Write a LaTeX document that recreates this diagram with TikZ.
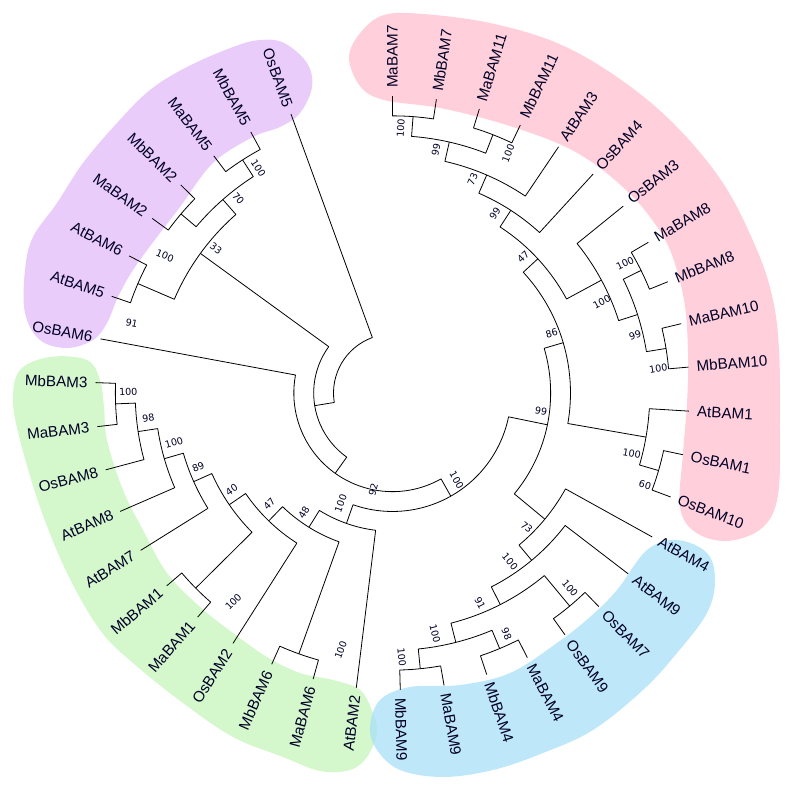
\documentclass[tikz,border=0pt]{standalone}
\usepackage{fontspec}
\setmainfont{Liberation Sans}
\newfontfamily\bsfont{DejaVu Sans}
\definecolor{bandpurple}{RGB}{234,204,251}
\definecolor{bandpink}{RGB}{255,208,219}
\definecolor{bandgreen}{RGB}{212,247,204}
\definecolor{bandblue}{RGB}{168,224,248}
\newcommand\trSetAng[2]{\expandafter\xdef\csname trAng@#1\endcsname{#2}}
\newcommand\trAng[1]{\csname trAng@#1\endcsname}
\newcommand\trLeaf[3]{%
  \pgfmathsetmacro\trLa{90-8.5*#2}%
  \trSetAng{#1}{\trLa}%
  \coordinate (#1) at (\trLa:296.96pt);%
  \pgfmathtruncatemacro\trLeft{cos(\trLa)<(-0.01)}%
  \ifnum\trLeft=1\relax
    \pgfmathsetmacro\trLr{\trLa+180}%
    \node[leaflab,anchor=east,rotate=\trLr] (t#1) at (\trLa:302pt) {#3};%
  \else
    \node[leaflab,anchor=west,rotate=\trLa] (t#1) at (\trLa:302pt) {#3};%
  \fi}
\newcommand\trNode[4]{%
  \pgfmathsetmacro\trTa{\trAng{#2}}%
  \pgfmathsetmacro\trTb{\trAng{#3}}%
  \pgfmathsetmacro\trTm{(\trTa+\trTb)/2}%
  \pgfmathsetmacro\trR{59+19.83*(12-#4)}%
  \trSetAng{#1}{\trTm}%
  \coordinate (#1) at (\trTm:\trR pt);%
  \draw[branch] (#2) -- (\trTa:\trR pt) arc[start angle=\trTa,end angle=\trTb,radius=\trR pt] -- (#3);%
}
\begin{document}
\begin{tikzpicture}[x=1pt,y=1pt,
  branch/.style={line width=0.8pt,black,line join=round},
  leaflab/.style={font=\fontsize{15.2}{18}\selectfont,inner sep=3pt,text=black!85!blue},
  bs/.style={font=\bsfont\fontsize{9.6}{11}\selectfont,inner sep=0pt,text=black!85!blue},
  band/.style={smooth cycle,tension=0.6}]
\useasboundingbox (0,0) rectangle (792,784);
% ---------- highlight bands (image coordinates) ----------
\begin{scope}[shift={(0,784)},yscale=-1]
\fill[bandgreen] plot[band] coordinates {(50,357) (87,360) (100,380) (104,407) (107,440) (123,490) (143,530) (167,573) (200,607) (233,633) (267,657) (300,673) (333,680) (360,690) (373,713) (377,733) (367,757) (350,770) (320,771) (283,757) (233,737) (183,703) (133,663) (100,630) (67,573) (40,507) (20,440) (13,400) (20,370)};
\fill[bandblue,fill opacity=0.75] plot[band] coordinates {(370,727) (380,700) (410,687) (460,685) (510,673) (557,643) (590,617) (617,590) (647,550) (677,540) (707,553) (715,580) (707,613) (677,653) (643,690) (593,730) (543,753) (493,770) (443,777) (400,770) (377,750)};
\fill[bandpink] plot[band] coordinates {(349,57) (361,32) (384,15) (423,14) (490,23) (557,43) (617,77) (673,123) (723,183) (757,250) (773,300) (779,350) (780,420) (778,495) (762,528) (727,541) (695,532) (680,507) (683,453) (687,403) (688,353) (684,300) (670,250) (650,217) (626,190) (593,163) (557,143) (500,123) (440,108) (384,100) (360,86)};
\fill[bandpurple] plot[band] coordinates {(260,40) (284,43) (307,63) (312,87) (300,113) (280,127) (253,137) (213,163) (180,207) (157,237) (133,270) (118,297) (107,323) (93,340) (67,348) (40,340) (25,313) (25,270) (33,237) (57,203) (83,163) (117,123) (150,90) (187,67) (233,47)};
\end{scope}
% ---------- tree ----------
\begin{scope}[shift={(392.5,391)}]
\trLeaf{MaBAM7}{0}{MaBAM7}
\trLeaf{MbBAM7}{1}{MbBAM7}
\trLeaf{MaBAM11}{2}{MaBAM11}
\trLeaf{MbBAM11}{3}{MbBAM11}
\trLeaf{AtBAM3}{4}{AtBAM3}
\trLeaf{OsBAM4}{5}{OsBAM4}
\trLeaf{OsBAM3}{6}{OsBAM3}
\trLeaf{MaBAM8}{7}{MaBAM8}
\trLeaf{MbBAM8}{8}{MbBAM8}
\trLeaf{MaBAM10}{9}{MaBAM10}
\trLeaf{MbBAM10}{10}{MbBAM10}
\trLeaf{AtBAM1}{11}{AtBAM1}
\trLeaf{OsBAM1}{12}{OsBAM1}
\trLeaf{OsBAM10}{13}{OsBAM10}
\trLeaf{AtBAM4}{14}{AtBAM4}
\trLeaf{AtBAM9}{15}{AtBAM9}
\trLeaf{OsBAM7}{16}{OsBAM7}
\trLeaf{OsBAM9}{17}{OsBAM9}
\trLeaf{MaBAM4}{18}{MaBAM4}
\trLeaf{MbBAM4}{19}{MbBAM4}
\trLeaf{MaBAM9}{20}{MaBAM9}
\trLeaf{MbBAM9}{21}{MbBAM9}
\trLeaf{AtBAM2}{22}{AtBAM2}
\trLeaf{MaBAM6}{23}{MaBAM6}
\trLeaf{MbBAM6}{24}{MbBAM6}
\trLeaf{OsBAM2}{25}{OsBAM2}
\trLeaf{MaBAM1}{26}{MaBAM1}
\trLeaf{MbBAM1}{27}{MbBAM1}
\trLeaf{AtBAM7}{28}{AtBAM7}
\trLeaf{AtBAM8}{29}{AtBAM8}
\trLeaf{OsBAM8}{30}{OsBAM8}
\trLeaf{MaBAM3}{31}{MaBAM3}
\trLeaf{MbBAM3}{32}{MbBAM3}
\trLeaf{OsBAM6}{33}{OsBAM6}
\trLeaf{AtBAM5}{34}{AtBAM5}
\trLeaf{AtBAM6}{35}{AtBAM6}
\trLeaf{MaBAM2}{36}{MaBAM2}
\trLeaf{MbBAM2}{37}{MbBAM2}
\trLeaf{MaBAM5}{38}{MaBAM5}
\trLeaf{MbBAM5}{39}{MbBAM5}
\trLeaf{OsBAM5}{40}{OsBAM5}
% internal nodes: name, child, child, height
\trNode{K1}{MaBAM7}{MbBAM7}{1}
\trNode{K2}{MaBAM11}{MbBAM11}{1}
\trNode{K3}{K1}{K2}{2}
\trNode{K4}{K3}{AtBAM3}{3}
\trNode{K5}{K4}{OsBAM4}{4}
\trNode{L1}{MaBAM8}{MbBAM8}{1}
\trNode{L2}{MaBAM10}{MbBAM10}{1}
\trNode{L3}{L1}{L2}{2}
\trNode{L4}{OsBAM3}{L3}{3}
\trNode{K6}{K5}{L4}{5}
\trNode{M1}{OsBAM1}{OsBAM10}{1}
\trNode{M2}{AtBAM1}{M1}{2}
\trNode{N6}{K6}{M2}{6}
\trNode{Q1}{MaBAM9}{MbBAM9}{1}
\trNode{Q2}{MaBAM4}{MbBAM4}{1}
\trNode{Q3}{Q2}{Q1}{2}
\trNode{Q4}{OsBAM7}{OsBAM9}{1}
\trNode{Q5}{Q4}{Q3}{3}
\trNode{Q6}{AtBAM9}{Q5}{4}
\trNode{Q7}{AtBAM4}{Q6}{5}
\trNode{F}{N6}{Q7}{7}
\trNode{G1}{MaBAM3}{MbBAM3}{1}
\trNode{G2}{OsBAM8}{G1}{2}
\trNode{G3}{AtBAM8}{G2}{3}
\trNode{G4}{AtBAM7}{G3}{4}
\trNode{G6}{MaBAM1}{MbBAM1}{1}
\trNode{G5}{G6}{G4}{5}
\trNode{G7}{OsBAM2}{G5}{6}
\trNode{G9}{MaBAM6}{MbBAM6}{1}
\trNode{G8}{G9}{G7}{7}
\trNode{E}{AtBAM2}{G8}{8}
\trNode{D}{E}{F}{9}
\trNode{B}{OsBAM6}{D}{10}
\trNode{P1}{MaBAM5}{MbBAM5}{1}
\trNode{P2}{MaBAM2}{MbBAM2}{1}
\trNode{P3}{P2}{P1}{2}
\trNode{P4}{AtBAM5}{AtBAM6}{1}
\trNode{P5}{P4}{P3}{3}
\trNode{A}{P5}{B}{11}
\trNode{R}{A}{OsBAM5}{12}
\end{scope}
% ---------- bootstrap values ----------
\node[bs,rotate=-57.25] (b1) at (258.3,615.7) {100};
\node[bs,rotate=-48.75] (b2) at (238.3,585.7) {70};
\node[bs,rotate=-36] (b3) at (216,535.7) {33};
\node[bs,rotate=-23.25] (b4) at (165,528) {100};
\node[bs,rotate=-12] (b5) at (131.7,460.7) {91};
\node[bs,rotate=2.25] (b6) at (128.3,392.3) {100};
\node[bs,rotate=8.6] (b7) at (148.3,365.7) {98};
\node[bs,rotate=16.1] (b8) at (174,341.3) {100};
\node[bs,rotate=24] (b9) at (198.3,316.7) {89};
\node[bs,rotate=34.4] (b10) at (231.7,294) {40};
\node[bs,rotate=46] (b11) at (269.3,280) {47};
\node[bs,rotate=58.1] (b12) at (304,271.3) {48};
\node[bs,rotate=70.6] (b13) at (340.7,280.7) {100};
\node[bs,rotate=44.75] (b14) at (233.3,182.3) {100};
\node[bs,rotate=70.25] (b15) at (340.7,134) {100};
\node[bs,rotate=75] (b16) at (373.3,294.7) {92};
\node[bs,rotate=85.75] (b17) at (400.7,655.7) {100};
\node[bs,rotate=77.25] (b18) at (436,634.7) {99};
\node[bs,rotate=68.75] (b19) at (508.3,630.7) {100};
\node[bs,rotate=66.6] (b20) at (472.7,604.7) {73};
\node[bs,rotate=57] (b21) at (495,570.7) {99};
\node[bs,rotate=42.7] (b22) at (523.3,527.3) {47};
\node[bs,rotate=26.25] (b23) at (625,520.7) {100};
\node[bs,rotate=28.4] (b24) at (601.7,482.3) {100};
\node[bs,rotate=17.75] (b25) at (635,449) {99};
\node[bs,rotate=9.25] (b26) at (658.3,415.7) {100};
\node[bs,rotate=16.4] (b27) at (551.7,450.7) {86};
\node[bs,rotate=-9.9] (b28) at (631.7,330.7) {100};
\node[bs,rotate=-16.25] (b29) at (645,299) {60};
\node[bs,rotate=-11.6] (b30) at (541,373) {99};
\node[bs,rotate=-60.5] (b31) at (456.7,304) {100};
\node[bs,rotate=-39.6] (b32) at (526.7,256.7) {73};
\node[bs,rotate=-50.25] (b33) at (510,222.3) {100};
\node[bs,rotate=-50.25] (b34) at (570,195.7) {100};
\node[bs,rotate=-63] (b35) at (480,180.7) {91};
\node[bs,rotate=-67.25] (b36) at (506.7,150) {98};
\node[bs,rotate=-75.75] (b37) at (435,150) {100};
\node[bs,rotate=-84.25] (b38) at (401.7,126.7) {100};
\end{tikzpicture}
\end{document}
